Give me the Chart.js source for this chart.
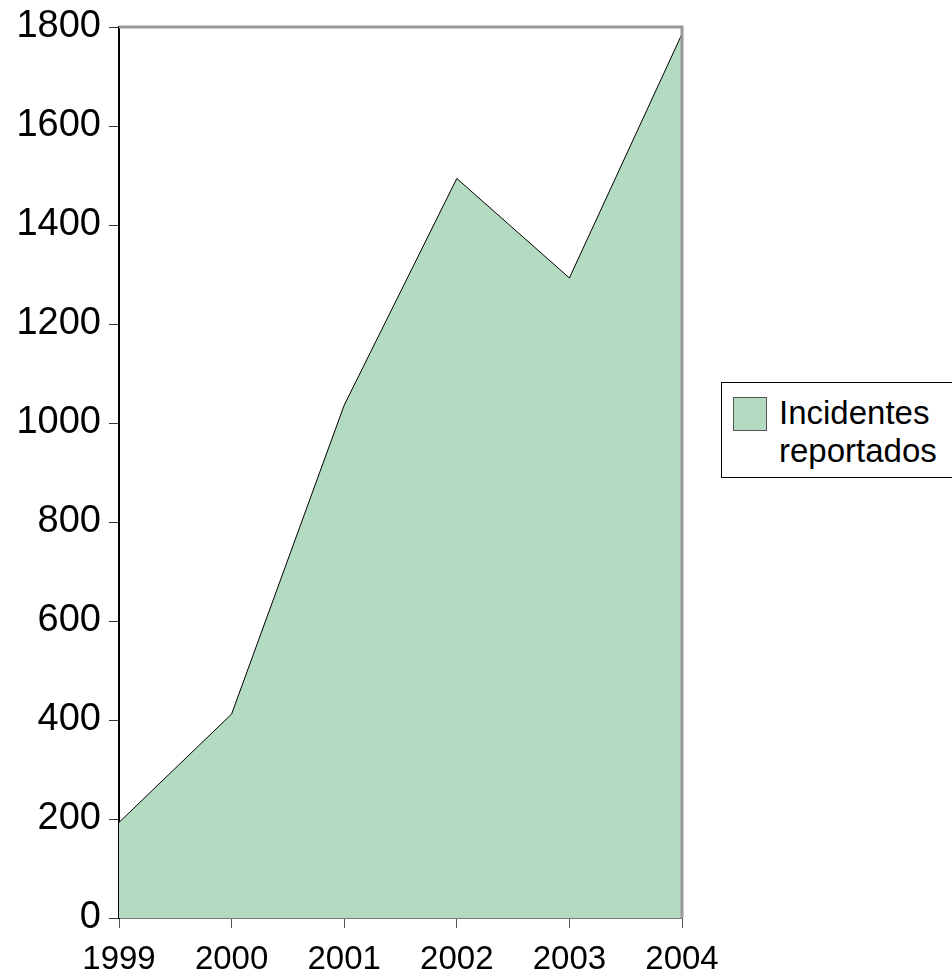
<!DOCTYPE html>
<html>
<head>
<meta charset="utf-8">
<script src="https://cdn.jsdelivr.net/npm/chart.js@4/dist/chart.umd.min.js"></script>
<style>
    html, body { margin: 0; padding: 0; background: #fff; }
    #wrap { position: relative; width: 952px; height: 973px; overflow: hidden; }
    #legend {
        position: absolute; left: 721px; top: 382px; width: 260px; height: 96px;
        border: 1px solid #000; box-sizing: border-box; background: #fff;
        font-family: "Liberation Sans", Arial, sans-serif; font-size: 33px; line-height: 38px; color: #000;
    }
    #legend .swatch {
        position: absolute; left: 11px; top: 14px; width: 34px; height: 34px;
        box-sizing: border-box; border: 1px solid #555;
    }
    #legend .label { position: absolute; left: 57px; top: 11px; }
</style>
</head>
<body>
<div id="wrap">
    <canvas id="chart" width="952" height="973"></canvas>
    <div id="legend"><div class="swatch"></div><div class="label"></div></div>
</div>
<script>
const years = ["1999", "2000", "2001", "2002", "2003", "2004"];
const incidents = [193, 412, 1036, 1494, 1293, 1786];
const yTicks = [0, 200, 400, 600, 800, 1000, 1200, 1400, 1600, 1800];
const seriesLabel = ["Incidentes", "reportados"];

const fillColor = "#b3dbc1";
const fontFamily = "'Liberation Sans', Arial, sans-serif";

// gray frame on top and right of the plot area
const framePlugin = {
    id: "frame",
    afterDatasetsDraw(chart) {
        const { ctx, chartArea: a } = chart;
        ctx.save();
        ctx.strokeStyle = "#999999";
        ctx.lineWidth = 3;
        ctx.beginPath();
        ctx.moveTo(a.left, a.top);
        ctx.lineTo(a.right, a.top);
        ctx.lineTo(a.right, a.bottom);
        ctx.stroke();
        ctx.restore();
    },
};

new Chart(document.getElementById("chart"), {
    type: "line",
    data: {
        labels: years,
        datasets: [{
            label: seriesLabel.join(" "),
            data: incidents,
            fill: "origin",
            backgroundColor: fillColor,
            borderColor: "#000",
            borderWidth: 1,
            pointRadius: 0,
            tension: 0,
        }],
    },
    options: {
        responsive: false,
        animation: false,
        layout: { padding: { top: 26, right: 270, left: 0, bottom: 0 } },
        plugins: { legend: { display: false }, tooltip: { enabled: false } },
        scales: {
            x: {
                offset: false,
                afterFit: (s) => { s.height = 55; },
                grid: { drawOnChartArea: false, drawTicks: true, tickLength: 10, color: "#555" },
                border: { color: "#777", width: 2 },
                ticks: { color: "#000", padding: 12, maxRotation: 0, font: { family: fontFamily, size: 33 } },
            },
            y: {
                min: 0,
                max: 1800,
                afterFit: (s) => { s.width = 119; },
                afterBuildTicks: (s) => { s.ticks = yTicks.map((v) => ({ value: v })); },
                grid: { drawOnChartArea: false, drawTicks: true, tickLength: 10, color: "#333" },
                border: { color: "#000", width: 2 },
                ticks: {
                    color: "#000",
                    padding: 8,
                    font: { family: fontFamily, size: 38, lineHeight: 1 },
                    callback: (v) => String(v),
                },
            },
        },
    },
    plugins: [framePlugin],
});

document.querySelector("#legend .swatch").style.background = fillColor;
document.querySelector("#legend .label").innerHTML = seriesLabel.join("<br>");
</script>
</body>
</html>
